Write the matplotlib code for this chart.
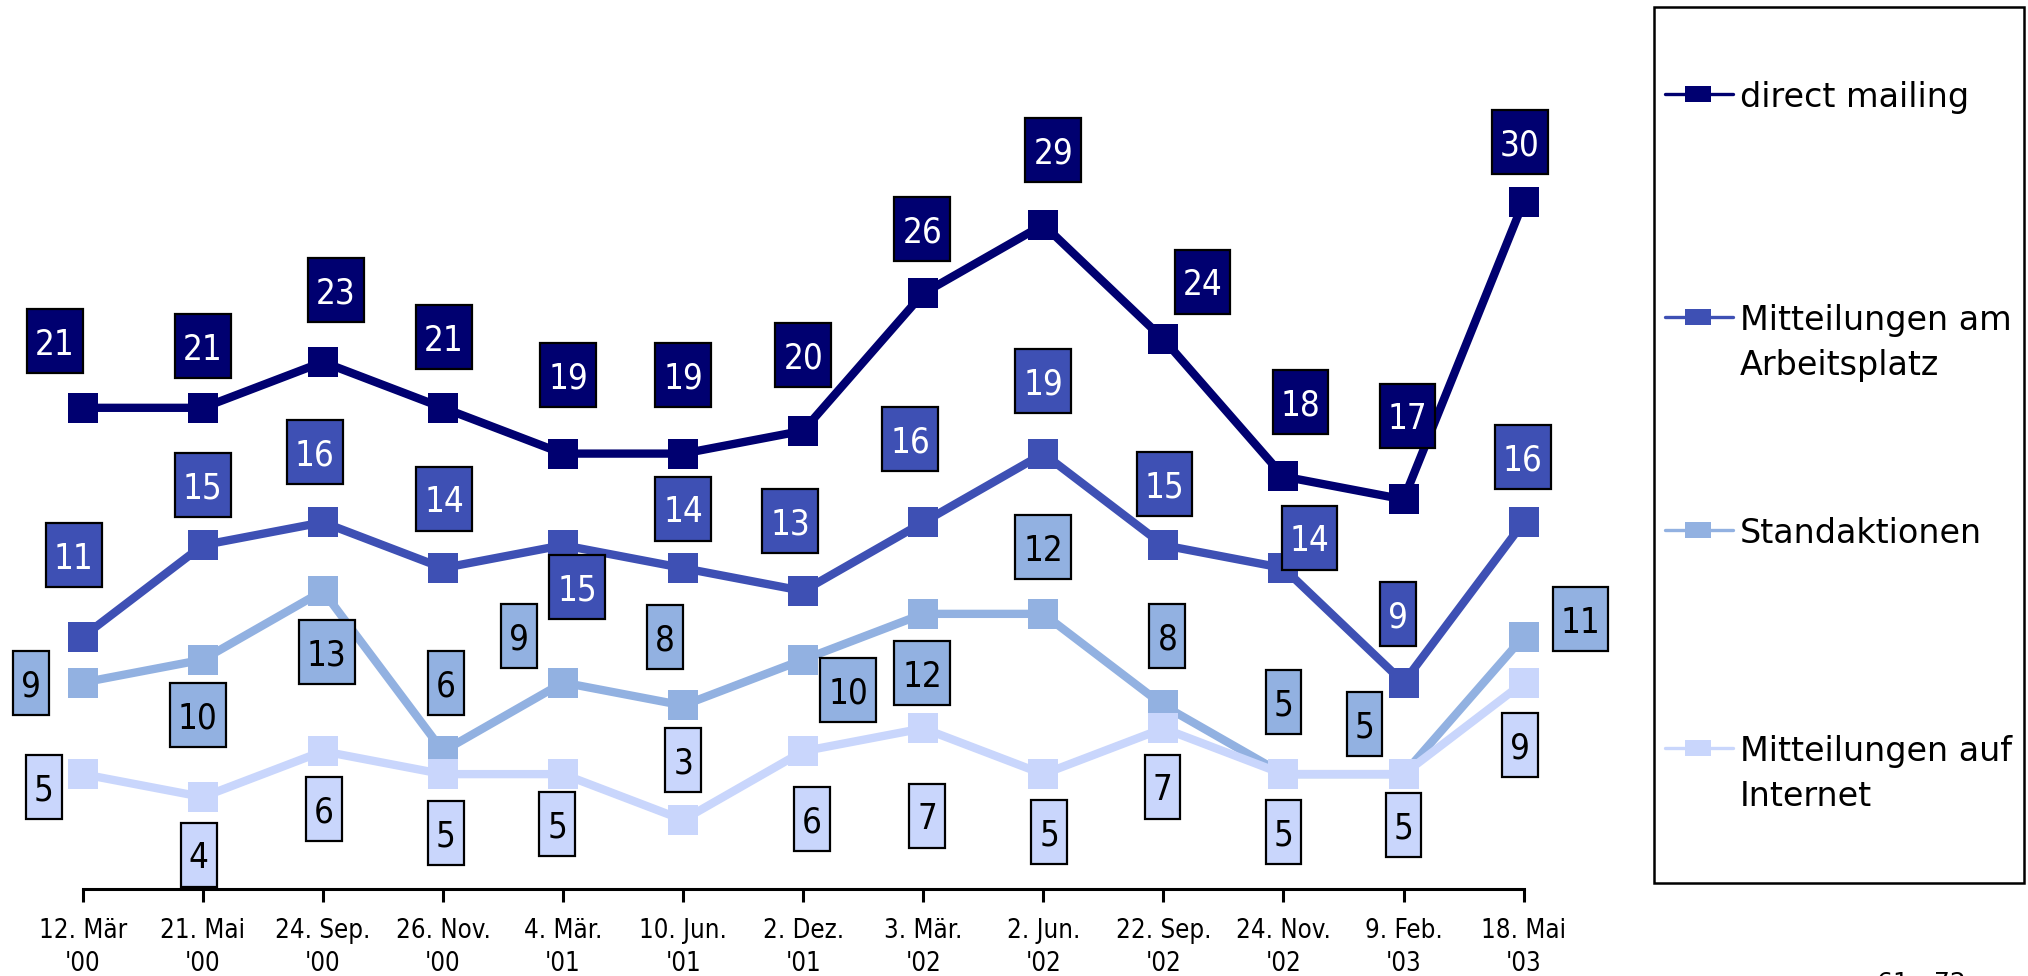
import matplotlib
matplotlib.use("Agg")
import matplotlib.pyplot as plt
from matplotlib.path import Path
from matplotlib.lines import Line2D
from matplotlib.patches import Rectangle

# data
dates = ["12. Mär\n'00", "21. Mai\n'00", "24. Sep.\n'00", "26. Nov.\n'00", "4. Mär.\n'01",
         "10. Jun.\n'01", "2. Dez.\n'01", "3. Mär.\n'02", "2. Jun.\n'02", "22. Sep.\n'02",
         "24. Nov.\n'02", "9. Feb.\n'03", "18. Mai\n'03"]
direct_mailing = [21, 21, 23, 21, 19, 19, 20, 26, 29, 24, 18, 17, 30]
arbeitsplatz = [11, 15, 16, 14, 15, 14, 13, 16, 19, 15, 14, 9, 16]
standaktionen = [9, 10, 13, 6, 9, 8, 10, 12, 12, 8, 5, 5, 11]
internet = [5, 4, 6, 5, 5, 3, 6, 7, 5, 7, 5, 5, 9]

series = [direct_mailing, arbeitsplatz, standaktionen, internet]
names = ["direct mailing", "Mitteilungen am\nArbeitsplatz", "Standaktionen",
         "Mitteilungen auf\nInternet"]
colors = ["#000070", "#3e50b4", "#92b1e1", "#c9d6fc"]
text_colors = ["white", "white", "black", "black"]

# where each value label sits relative to its point (pixels, x right / y up)
label_offsets = [
    [(-28, 63), (0, 58), (13, 69), (1, 67), (5, 75), (0, 75), (0, 72),
     (-1, 61), (10, 71), (39, 54), (17, 71), (4, 80), (-4, 56)],
    [(-9, 78), (0, 57), (-8, 67), (1, 66), (14, -45), (0, 56), (-13, 66),
     (-13, 80), (0, 69), (1, 58), (26, 27), (-6, 65), (-1, 62)],
    [(-52, -4), (-5, -59), (4, -65), (3, 65), (-44, 43), (-18, 65), (45, -34),
     (-1, -63), (0, 63), (4, 66), (0, 69), (-39, 47), (57, 14)],
    [(-39, -16), (-4, -61), (1, -61), (3, -62), (-6, -53), (0, 56), (9, -71),
     (4, -91), (6, -61), (-1, -62), (0, -61), (0, -54), (-4, -66)],
]


def label_box(x0, y0, width, height, mutation_size):
    # tall box with narrow side padding, like the original labels
    padx = 8
    half = 32
    cy = y0 + height / 2 + 0.1 * mutation_size
    x1, x2 = x0 - padx, x0 + width + padx
    return Path([(x1, cy - half), (x2, cy - half), (x2, cy + half),
                 (x1, cy + half), (x1, cy - half)], closed=True)


W, H = 2028, 976
fig = plt.figure(figsize=(W / 100, H / 100), dpi=100)
ax = fig.add_axes([82.8 / W, 87.4 / H, 1440.8 / W, 870 / H])

x = list(range(len(dates)))
for k, vals in enumerate(series):
    ax.plot(x, vals, color=colors[k], lw=6, marker='s', ms=22.3, mew=0,
            clip_on=False, zorder=2 + k)

for k, vals in enumerate(series):
    for i, v in enumerate(vals):
        dx, dy = label_offsets[k][i]
        ax.annotate(str(v), xy=(i, v), xytext=(dx, dy), textcoords='offset pixels',
                    ha='center', va='center', fontsize=25, family='DejaVu Sans',
                    fontstretch='condensed', color=text_colors[k], zorder=10,
                    bbox=dict(boxstyle=label_box, fc=colors[k], ec='black', lw=1.6))

ax.set_xlim(0, 12)
ax.set_ylim(0, 38)
ax.set_xticks(x)
ax.set_xticklabels(dates, fontsize=18.5, fontstretch='condensed', linespacing=1.38)
ax.set_yticks([])
ax.tick_params(axis='x', length=9, width=2.2, pad=12)
for s in ['left', 'top', 'right']:
    ax.spines[s].set_visible(False)
ax.spines['bottom'].set_linewidth(2.2)

# legend drawn by hand so the handles line up with the first text line
fig.add_artist(Rectangle((1654 / W, 1 - 883 / H), 370 / W, 876.5 / H,
                         transform=fig.transFigure, fill=False, ec='black', lw=1.8))
legend_rows = [94, 317, 530, 748]
for k, name in enumerate(names):
    yy = 1 - legend_rows[k] / H
    fig.add_artist(Line2D([1665 / W, 1733 / W], [yy, yy], transform=fig.transFigure,
                          color=colors[k], lw=2.4, solid_capstyle='round'))
    fig.add_artist(Rectangle(((1698 - 13) / W, yy - 8 / H), 26 / W, 16 / H,
                             transform=fig.transFigure, fc=colors[k], ec='none'))
    fig.text(1740 / W, yy + 13 / H, name, fontsize=24, va='top', ha='left',
             linespacing=1.45)

fig.text(1921 / W, 1 - 971 / H, "61 - 72", fontsize=18, va='top', ha='center')

fig.savefig("out.png", dpi=100)
